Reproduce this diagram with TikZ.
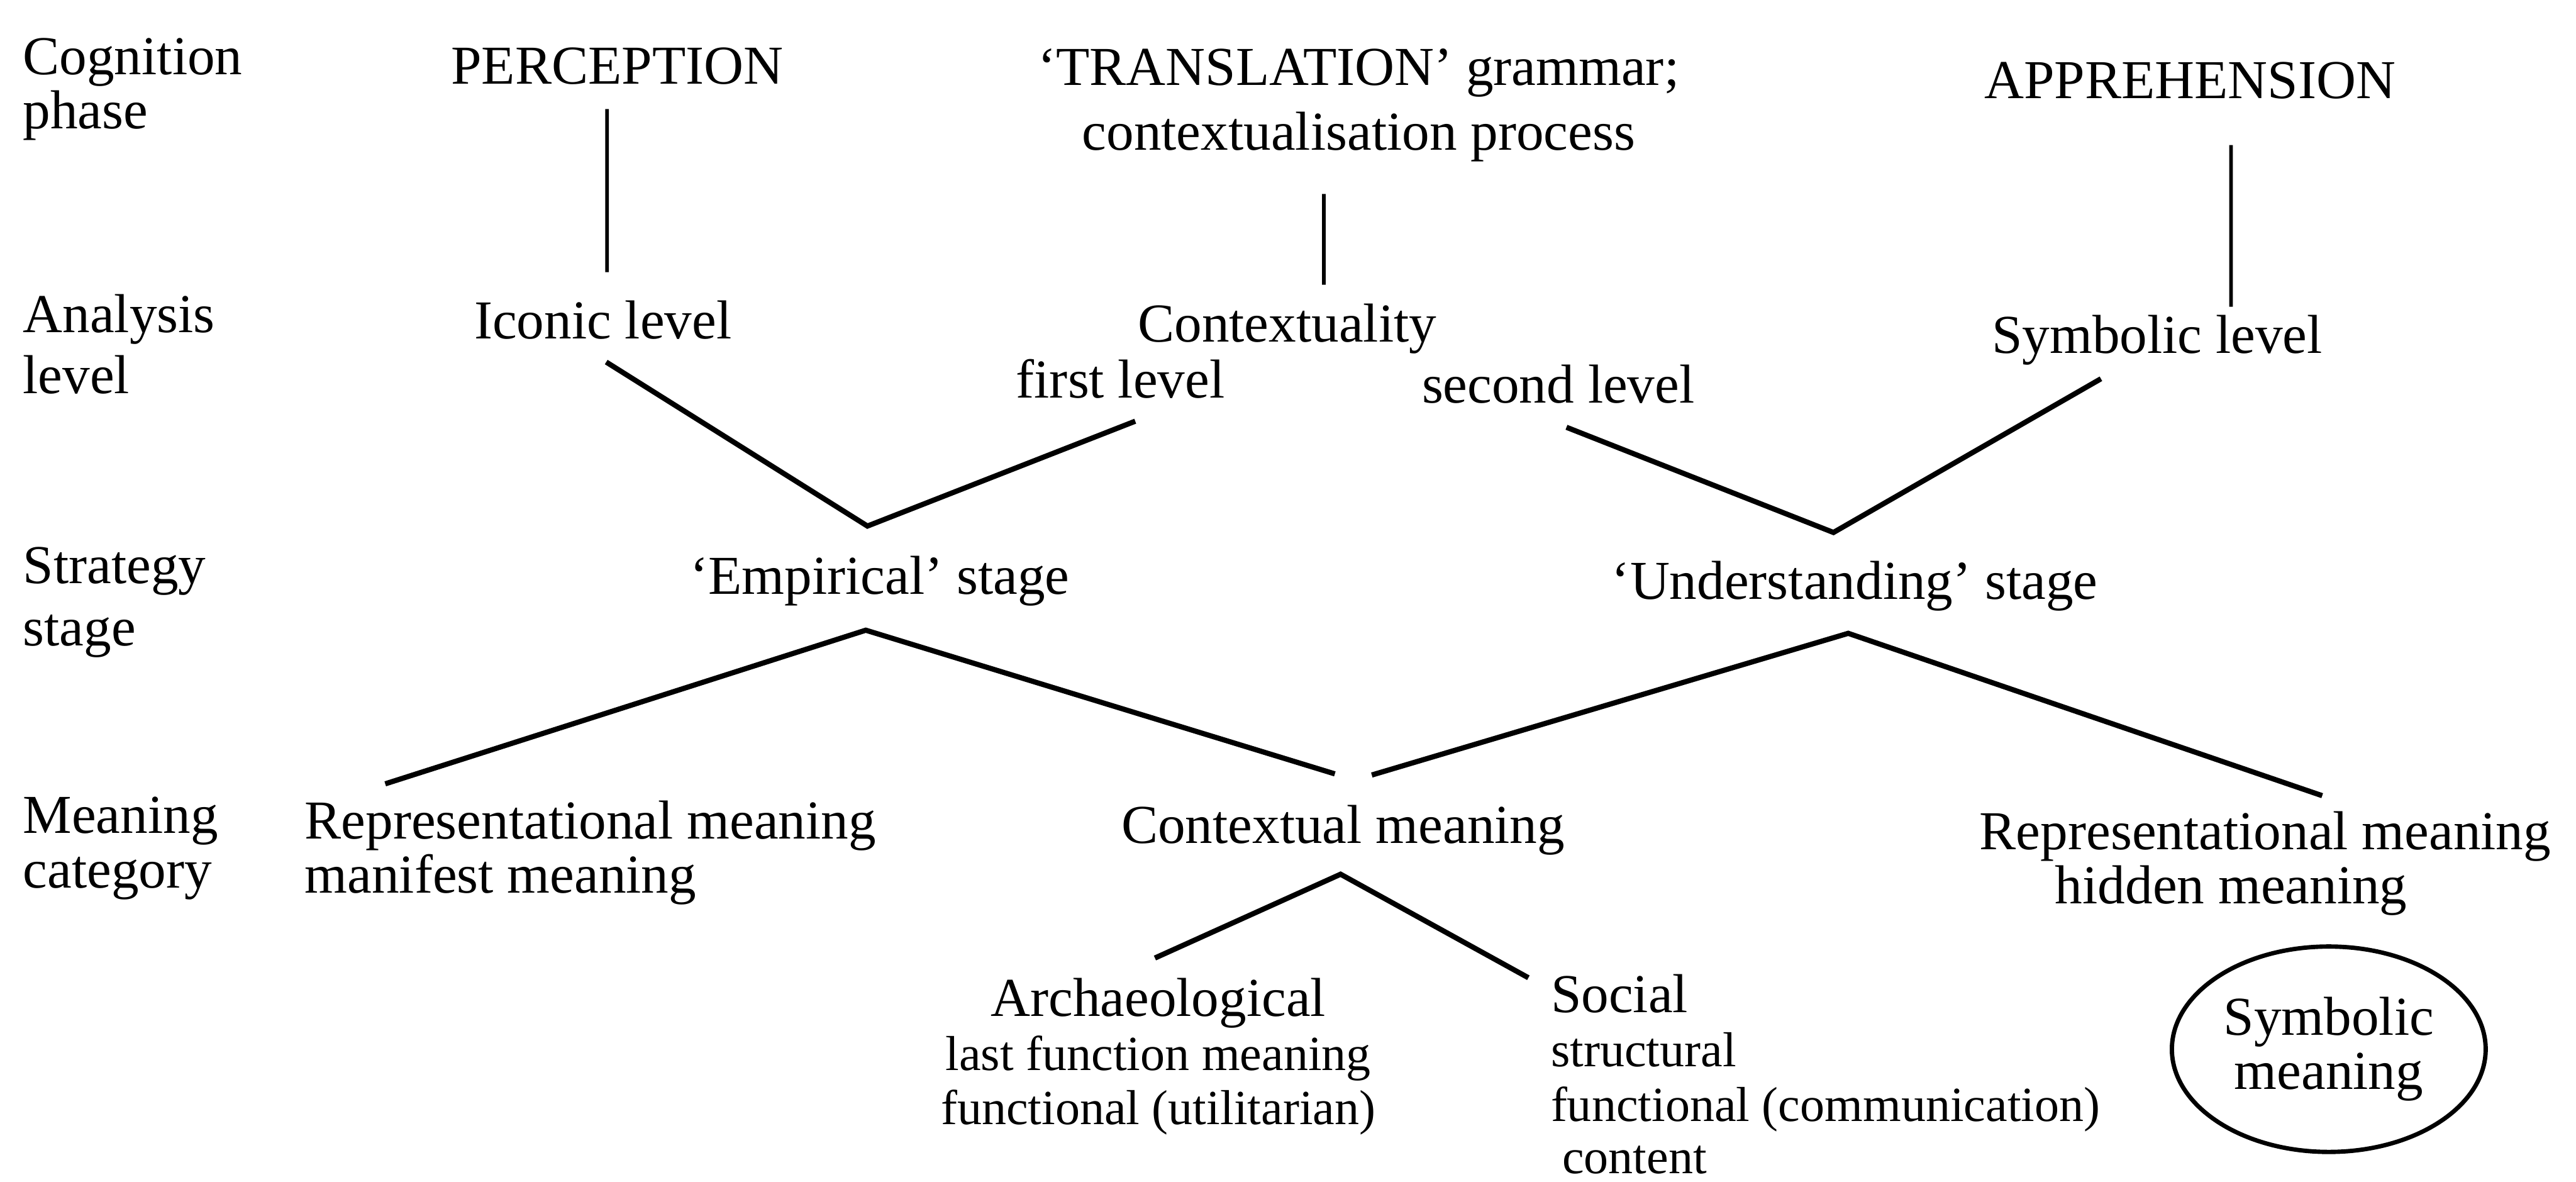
\documentclass[tikz,border=0pt]{standalone}
\usepackage{fontspec}
\setmainfont{Liberation Serif}
\usetikzlibrary{shapes.geometric}

\newcommand{\mainsize}{\fontsize{9.5pt}{9.4pt}\selectfont}
\newcommand{\subsize}{\fontsize{8.5pt}{9.4pt}\selectfont}

\begin{document}
\begin{tikzpicture}[
    every node/.style={font=\mainsize, inner sep=0pt, outer sep=0pt},
    rowlabel/.style={anchor=north west, align=left},
    term/.style={anchor=base},
    termblock/.style={anchor=north, align=center},
    termleft/.style={anchor=north west, align=left},
    oval/.style={ellipse, draw, line width=0.75pt, minimum width=1.91cm,
                 minimum height=1.25cm, align=center},
    branchline/.style={line width=0.9pt},
    stemline/.style={line width=0.65pt},
]
\useasboundingbox (0,0) rectangle (15.68,-7.19);

% ---------- Row labels (left column) ----------
\node[rowlabel] (cog)  at (0.14,-0.232) {Cognition\\phase};
\node[rowlabel] (ana)  at (0.14,-1.792) {Analysis\\[1.1pt]level};
\node[rowlabel] (stra) at (0.14,-3.328) {Strategy\\[1.4pt]stage};
\node[rowlabel] (mean) at (0.14,-4.850) {Meaning\\category};

% ---------- Cognition phase ----------
\node[term] (perc) at (3.757,-0.51) {PERCEPTION};
\node[termblock] (trans) at (8.27,-0.297)
    {‘TRANSLATION’ grammar;\\[1.85pt]contextualisation process};
\node[term] (appr) at (13.33,-0.60) {APPREHENSION};

% ---------- Analysis level ----------
\node[term] (iconic) at (3.67,-2.06)   {Iconic level};
\node[term] (ctxty)  at (7.835,-2.08)  {Contextuality};
\node[term] (first)  at (6.82,-2.42)   {first level};
\node[term] (second) at (9.485,-2.45)  {second level};
\node[term] (symlev) at (13.13,-2.15)  {Symbolic level};

% ---------- Strategy stage ----------
\node[term] (emp) at (5.355,-3.615) {‘Empirical’ stage};
\node[term] (und) at (11.29,-3.647) {‘Understanding’ stage};

% ---------- Meaning category ----------
\node[termleft] (repl) at (1.855,-4.872)
    {Representational meaning\\manifest meaning};
\node[term] (ctxm) at (8.175,-5.13) {Contextual meaning};
\node[termleft] (repr) at (12.05,-4.937)
    {Representational meaning\\\hspace*{4.6mm}hidden meaning};

\node[termblock] (arch) at (7.05,-5.952)
    {Archaeological\\{\subsize last function meaning}\\{\subsize functional (utilitarian)}};
\node[termleft] (social) at (9.44,-5.93)
    {Social\\{\subsize structural}\\{\subsize functional (communication)}\\[-0.3pt]{\subsize\hspace*{0.7mm}content}};
\node[oval] (symm) at (14.175,-6.385) {Symbolic\\meaning};

% ---------- Junctions ----------
\coordinate (emp in)  at ([shift={(-0.75mm,1.82mm)}]emp.north);
\coordinate (emp out) at ([shift={(-0.85mm,-1.48mm)}]emp.south);
\coordinate (und in)  at ([shift={(-1.3mm,1.75mm)}]und.north);
\coordinate (und out) at ([shift={(-0.4mm,-1.35mm)}]und.south);
\coordinate (ctx out) at ([shift={(-0.15mm,-1.18mm)}]ctxm.south);

% ---------- Connectors ----------
\draw[stemline] ([shift={(-0.62mm,-1.5mm)}]perc.south)
    -- ([shift={(0.25mm,1.72mm)}]iconic.north);
\draw[stemline] ([shift={(-2.12mm,-1.95mm)}]trans.south)
    -- ([shift={(2.23mm,1.16mm)}]ctxty.north);
\draw[stemline] ([shift={(2.5mm,-2.8mm)}]appr.south)
    -- ([shift={(4.5mm,0.52mm)}]symlev.north);

\draw[branchline] ([shift={(0.2mm,-1.4mm)}]iconic.south) -- (emp in)
    -- ([shift={(0.9mm,-1.4mm)}]first.south);
\draw[branchline] ([shift={(0.5mm,-1.47mm)}]second.south) -- (und in)
    -- ([shift={(-3.42mm,-0.83mm)}]symlev.south);

\draw[branchline] ([shift={(4.9mm,1.02mm)}]repl.north west) -- (emp out)
    -- ([shift={(-0.5mm,1.89mm)}]ctxm.north);
\draw[branchline] ([shift={(1.75mm,1.82mm)}]ctxm.north) -- (und out)
    -- ([shift={(20.85mm,0.95mm)}]repr.north west);

\draw[branchline] ([shift={(-0.2mm,1.22mm)}]arch.north) -- (ctx out)
    -- ([shift={(-1.37mm,-0.2mm)}]social.north west);

\end{tikzpicture}
\end{document}
